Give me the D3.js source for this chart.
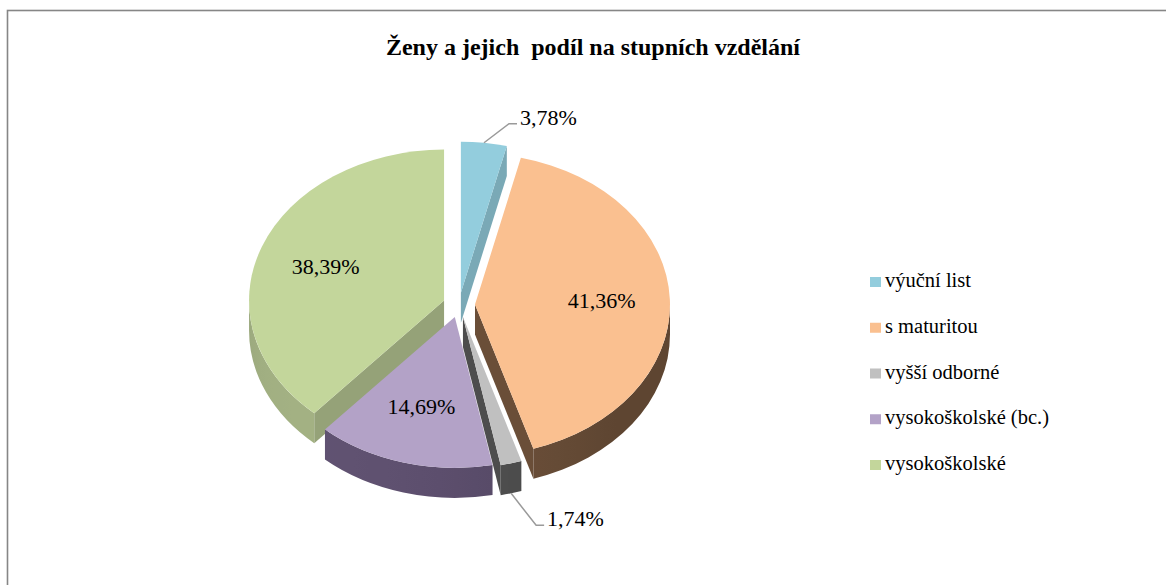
<!DOCTYPE html>
<html>
<head>
<meta charset="utf-8">
<script src="https://cdnjs.cloudflare.com/ajax/libs/d3/7.8.5/d3.min.js"></script>
</head>
<body style="margin:0;background:#fff">
<div id="pie3d"></div>
<script>
    //chart data
    var title = "Ženy a jejich\u00a0 podíl na stupních vzdělání";
    var categories = ["výuční list", "s maturitou", "vyšší odborné", "vysokoškolské (bc.)", "vysokoškolské"];
    var shares = [3.78, 41.36, 1.74, 14.69, 38.39];
    //colours for the top faces and the walls
    var topColors = ["#93cddd", "#fac090", "#c0c0c0", "#b3a2c7", "#c3d69b"];
    var sideColors = ["#7aa9b6", "#6a4e38", "#4d4d4d", "#584b68", "#95a278"];

    var W = 1166;
    var H = 585;
    var FONT = "Liberation Serif";
    //geometry of the tilted pie
    var cx = 459, cy = 305;
    var rx = 195, ry = 151;
    var depth = 30;
    var explode = 16;

    //czech number format: 3,78%
    var cz = d3.formatLocale({decimal: ",", thousands: "\u00a0", grouping: [3], currency: ["", " Kč"]});
    var fmt = cz.format(".2f");

    var data = categories.map(function(c, i) {
        return {name: c, value: shares[i], top: topColors[i], side: sideColors[i]};
    });

    var pie = d3.pie()
        .sort(null)
        .value(function(d) { return d.value; });
    var arcs = pie(data);

    //point on the rim of the ellipse for angle a (clockwise from 12 o'clock)
    function rim(a, c) {
        return [c[0] + rx * Math.sin(a), c[1] - ry * Math.cos(a)];
    }
    function down(p) {
        return [p[0], p[1] + depth];
    }
    function pstr(p) {
        return p[0].toFixed(2) + "," + p[1].toFixed(2);
    }
    //serif text, forced inline so nothing else overrides it
    function serifText(sel, size, bold) {
        return sel
            .attr("font-family", FONT)
            .attr("font-size", size)
            .style("font-family", FONT, "important")
            .style("font-size", size + "px", "important")
            .style("font-weight", bold ? "bold" : "normal", "important");
    }

    arcs.forEach(function(d) {
        d.mid = (d.startAngle + d.endAngle) / 2;
        //apex of each exploded slice
        d.c = [cx + explode * Math.sin(d.mid), cy - explode * (ry / rx) * Math.cos(d.mid)];
    });

    var svg = d3.select("#pie3d").append("svg")
        .attr("width", W)
        .attr("height", H)
        .style("display", "block");
    var defs = svg.append("defs");

    //outer frame
    svg.append("rect")
        .attr("x", 7.5)
        .attr("y", 10.5)
        .attr("width", W + 20)
        .attr("height", H + 20)
        .attr("fill", "none")
        .attr("stroke", "#868686")
        .attr("stroke-width", 1.6);

    //title
    serifText(svg.append("text"), 24, true)
        .attr("x", 593)
        .attr("y", 55)
        .attr("text-anchor", "middle")
        .attr("fill", "#000")
        .text(title);

    //lighting of the walls: brightest facing down-left
    function shade(a) {
        return Math.max(0, Math.cos(a - 225 * Math.PI / 180));
    }

    var pieG = svg.append("g");
    //back slices first
    var order = arcs.slice().sort(function(a, b) {
        return Math.cos(b.mid) - Math.cos(a.mid);
    });

    order.forEach(function(d, k) {
        var g = pieG.append("g");
        var a0 = d.startAngle, a1 = d.endAngle;
        var apex = d.c;
        var p;

        //radial faces that face the viewer
        if (Math.sin(a0) < -1e-6) {
            p = rim(a0, apex);
            g.append("path")
                .attr("d", "M" + pstr(apex) + "L" + pstr(p) + "L" + pstr(down(p)) + "L" + pstr(down(apex)) + "Z")
                .attr("fill", d.data.side);
        }
        if (Math.sin(a1) > 1e-6) {
            p = rim(a1, apex);
            g.append("path")
                .attr("d", "M" + pstr(apex) + "L" + pstr(p) + "L" + pstr(down(p)) + "L" + pstr(down(apex)) + "Z")
                .attr("fill", d.data.side);
        }

        //outer wall on the front half
        var s = Math.max(a0, Math.PI / 2);
        var e = Math.min(a1, Math.PI * 3 / 2);
        if (e > s) {
            var p0 = rim(s, apex), p1 = rim(e, apex);
            var gid = "wall" + k;
            var grad = defs.append("linearGradient")
                .attr("id", gid)
                .attr("gradientUnits", "userSpaceOnUse")
                .attr("x1", p0[0]).attr("y1", 0)
                .attr("x2", p1[0]).attr("y2", 0);
            var mix = d3.interpolateRgb(d3.color(d.data.side).darker(0.35), d3.color(d.data.side).brighter(0.25));
            var span = p1[0] - p0[0];
            d3.range(0, 1.0001, 0.1).forEach(function(t) {
                var a = s + (e - s) * t;
                var x = rim(a, apex)[0];
                grad.append("stop")
                    .attr("offset", span === 0 ? t : (x - p0[0]) / span)
                    .attr("stop-color", mix(shade(a)));
            });
            g.append("path")
                .attr("d", "M" + pstr(p0) + "A" + rx + "," + ry + " 0 0 1 " + pstr(p1) +
                    "L" + pstr(down(p1)) + "A" + rx + "," + ry + " 0 0 0 " + pstr(down(p0)) + "Z")
                .attr("fill", "url(#" + gid + ")");
        }

        //top face
        var q0 = rim(a0, apex), q1 = rim(a1, apex);
        var large = (a1 - a0) > Math.PI ? 1 : 0;
        g.append("path")
            .attr("d", "M" + pstr(apex) + "L" + pstr(q0) + "A" + rx + "," + ry + " 0 " + large + " 1 " + pstr(q1) + "Z")
            .attr("fill", d.data.top);
    });

    //data labels
    var labelG = svg.append("g")
        .attr("fill", "#000");
    arcs.forEach(function(d) {
        var txt = fmt(d.data.value) + "%";
        if (d.data.value >= 5) {
            //inside the slice
            var x = d.c[0] + 0.65 * rx * Math.sin(d.mid);
            var y = d.c[1] - 0.62 * ry * Math.cos(d.mid);
            serifText(labelG.append("text"), 22)
                .attr("x", x)
                .attr("y", y + 7)
                .attr("text-anchor", "middle")
                .text(txt);
        } else {
            //outside with a leader line
            var back = Math.cos(d.mid) > 0;
            var start = back ? rim(d.mid, d.c) : down(rim(d.mid, d.c));
            var ty = start[1] + (back ? -25 : 26);
            var elbow = [start[0] + 25, ty + 6];
            var end = [elbow[0] + 8, elbow[1]];
            labelG.append("path")
                .attr("d", "M" + pstr(start) + "L" + pstr(elbow) + "L" + pstr(end))
                .attr("fill", "none")
                .attr("stroke", "#9a9a9a")
                .attr("stroke-width", 1.5);
            serifText(labelG.append("text"), 22)
                .attr("x", end[0] + 3)
                .attr("y", ty + 7)
                .text(txt);
        }
    });

    //legend
    var ly = d3.scalePoint()
        .domain(categories)
        .range([287, 470]);
    var item = svg.append("g")
        .attr("fill", "#000")
        .selectAll("g")
        .data(data)
        .enter().append("g")
        .attr("transform", function(d) { return "translate(870," + ly(d.name) + ")"; });
    item.append("rect")
        .attr("x", 0)
        .attr("y", -10)
        .attr("width", 11)
        .attr("height", 10)
        .attr("fill", function(d) { return d.top; });
    serifText(item.append("text"), 20.5)
        .attr("x", 15)
        .attr("y", 0)
        .text(function(d) { return d.name; });
</script>
</body>
</html>
